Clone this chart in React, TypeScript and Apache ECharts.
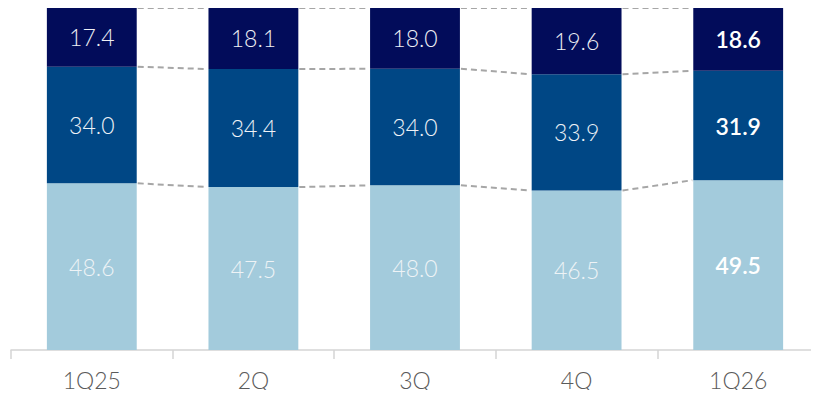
import React, { useEffect, useRef } from "react";
import * as echarts from "echarts";

const categories = ["1Q25", "2Q", "3Q", "4Q", "1Q26"];
const bottomValues = [48.6, 47.5, 48.0, 46.5, 49.5];
const middleValues = [34.0, 34.4, 34.0, 33.9, 31.9];
const topValues = [17.4, 18.1, 18.0, 19.6, 18.6];

const BAR_RATIO = 0.556;
const FONT = "Lato, 'Noto Sans', sans-serif";

const r1 = (v: number) => Math.round(v * 10) / 10;

export default function App() {
  const ref = useRef<HTMLDivElement>(null);
  useEffect(() => {
    if (!ref.current) return;
    const chart = echarts.init(ref.current, undefined, { renderer: "svg" });

    // one item per gap: [i, bottom_i, bottom_i+1, mid_i, mid_i+1]
    const connectors: number[][] = [];
    for (let i = 0; i < categories.length - 1; i++) {
      const a1 = bottomValues[i];
      const b1 = bottomValues[i + 1];
      const a2 = r1(bottomValues[i] + middleValues[i]);
      const b2 = r1(bottomValues[i + 1] + middleValues[i + 1]);
      connectors.push([i, a1, b1, a2, b2]);
    }

    const isLast = (i: number) => i === categories.length - 1;
    const mkData = (vals: number[]) =>
      vals.map((v, i) => ({
        value: v,
        label: isLast(i) ? { fontWeight: 600, color: "#ffffff" } : {},
      }));

    const labelBase = {
      show: true,
      position: "inside",
      fontFamily: FONT,
      fontSize: 23,
      fontWeight: 300,
      textBorderWidth: 0,
      textShadowBlur: 0,
      formatter: (p: any) => Number(p.value).toFixed(1),
    };

    const lineStyle = { stroke: "#a6a6a6", fill: null, lineWidth: 2, lineDash: [6, 4] };

    chart.setOption({
      animation: false,
      grid: { left: 11, right: -2, top: 7, bottom: 48, containLabel: false },
      xAxis: {
        type: "category",
        data: categories,
        axisLine: { lineStyle: { color: "#d4d4d4", width: 1.5 } },
        axisTick: { show: true, length: 9, lineStyle: { color: "#d4d4d4", width: 1.5 } },
        axisLabel: { color: "#5a5a5a", fontSize: 23, fontFamily: FONT, fontWeight: 300, margin: 18 },
      },
      yAxis: { type: "value", min: 0, max: 100, show: false, splitLine: { show: false } },
      series: [
        {
          type: "bar",
          stack: "s",
          barWidth: BAR_RATIO * 100 + "%",
          data: mkData(bottomValues),
          itemStyle: { color: "#a3cbdc" },
          label: { ...labelBase, color: "#eef3f6" },
        },
        {
          type: "bar",
          stack: "s",
          data: mkData(middleValues),
          itemStyle: { color: "#004785" },
          label: { ...labelBase, color: "#eef2f7" },
        },
        {
          type: "bar",
          stack: "s",
          data: mkData(topValues),
          itemStyle: { color: "#020c5a" },
          label: { ...labelBase, color: "#eef0f5" },
        },
        {
          type: "custom",
          data: connectors,
          encode: { x: 0, y: [1, 2, 3, 4] },
          clip: false,
          z: 5,
          renderItem: (params: any, api: any) => {
            const i = api.value(0);
            const hw = (api.size([1, 0])[0] * BAR_RATIO) / 2;
            const children: any[] = [];
            for (let k = 0; k < 2; k++) {
              const p1 = api.coord([i, api.value(1 + 2 * k)]);
              const p2 = api.coord([i + 1, api.value(2 + 2 * k)]);
              children.push({
                type: "line",
                shape: { x1: p1[0] + hw + 1, y1: p1[1], x2: p2[0] - hw - 1, y2: p2[1] },
                style: lineStyle,
              });
            }
            // top (100%) connector at the top edge of the plot
            const c1 = api.coord([i, 0]);
            const c2 = api.coord([i + 1, 0]);
            const topY = params.coordSys.y + 1;
            children.push({
              type: "rect",
              shape: { x: c1[0] + hw + 1, y: topY - 1, width: c2[0] - hw - 1 - (c1[0] + hw + 1), height: 2 },
              style: { fill: "none", stroke: null },
              silent: true,
            });
            children.push({
              type: "line",
              shape: { x1: c1[0] + hw + 1, y1: topY, x2: c2[0] - hw - 1, y2: topY + 0.01 },
              style: lineStyle,
            });
            return { type: "group", children };
          },
        },
      ],
    });
    return () => chart.dispose();
  }, []);
  return <div ref={ref} style={{ width: 819, height: 398, margin: -8 }} />;
}
